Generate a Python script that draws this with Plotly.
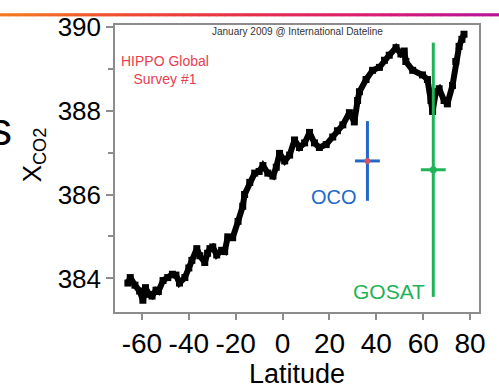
import plotly.graph_objects as go

# HIPPO Global Survey #1 data (latitude, XCO2)
hippo_lat = [-66.0, -65.0, -63.0, -61.0, -59.6, -58.5, -57.0, -55.7, -54.0, -53.0,
             -51.0, -49.0, -47.0, -45.5, -44.0, -41.7, -40.0, -38.7, -36.6, -35.3,
             -33.2, -32.0, -31.0, -29.8, -28.1, -26.0, -24.7, -23.4, -21.3, -19.0,
             -17.0, -16.2, -14.0, -11.9, -10.0, -8.4, -6.3, -4.1, -2.7, -1.3,
             0.9, 3.0, 5.1, 7.2, 9.4, 11.5, 13.6, 15.7, 18.6, 21.4,
             23.4, 25.7, 28.5, 30.6, 32.0, 32.8, 35.6, 38.4, 41.3, 43.5,
             45.5, 48.4, 50.5, 51.9, 52.6, 55.5, 59.7, 61.8, 63.3, 64.0,
             65.4, 66.8, 68.9, 70.3, 72.5, 73.9, 75.3, 76.5, 77.4]
hippo_xco2 = [383.89, 384.02, 383.84, 383.70, 383.48, 383.78, 383.62, 383.58, 383.72, 383.69,
              383.95, 384.02, 384.10, 384.08, 383.89, 384.02, 384.25, 384.43, 384.71, 384.54,
              384.38, 384.60, 384.71, 384.75, 384.56, 384.67, 384.64, 384.99, 384.97, 385.36,
              385.72, 386.00, 386.29, 386.51, 386.55, 386.69, 386.51, 386.44, 386.65, 386.98,
              386.80, 386.94, 387.30, 387.12, 387.23, 387.48, 387.23, 387.12, 387.19, 387.37,
              387.52, 387.66, 387.95, 387.73, 388.24, 388.45, 388.74, 388.96, 389.03, 389.20,
              389.32, 389.50, 389.35, 389.42, 389.17, 388.96, 388.85, 388.74, 388.24, 387.98,
              388.45, 388.52, 388.24, 388.16, 388.60, 389.17, 389.53, 389.70, 389.82]

# Satellite estimates
oco_lat = [36.2]
oco_xco2 = [386.80]
oco_err_y = [0.95]
oco_err_x = [5.3]

gosat_lat = [64.3]
gosat_xco2 = [386.59]
gosat_err_y = [3.03]
gosat_err_x = [5.3]

x_ticks = [-60, -40, -20, 0, 20, 40, 60, 80]
x_tick_labels = ["-60", "-40", "-20", "0", "20", "40", "60", "80"]
y_ticks = [384, 386, 388, 390]
y_tick_labels = ["384", "386", "388", "390"]

BLUE = "#2168C8"
GREEN = "#1FB357"
FONT = "Liberation Sans, Arial, sans-serif"

fig = go.Figure()

fig.add_trace(go.Scatter(
    x=hippo_lat, y=hippo_xco2, mode="lines+markers",
    line=dict(color="black", width=6),
    marker=dict(symbol="square", size=7, color="black"),
    showlegend=False, hoverinfo="skip"))

fig.add_trace(go.Scatter(
    x=oco_lat, y=oco_xco2, mode="markers",
    marker=dict(size=6, color="#D8506A"),
    error_y=dict(type="data", array=oco_err_y, color=BLUE, thickness=3, width=0),
    error_x=dict(type="data", array=oco_err_x, color=BLUE, thickness=3, width=0),
    showlegend=False, hoverinfo="skip"))

fig.add_trace(go.Scatter(
    x=gosat_lat, y=gosat_xco2, mode="markers",
    marker=dict(size=7, color=GREEN),
    error_y=dict(type="data", array=gosat_err_y, color=GREEN, thickness=3, width=0),
    error_x=dict(type="data", array=gosat_err_x, color=GREEN, thickness=3, width=0),
    showlegend=False, hoverinfo="skip"))

W, H = 499, 390
L, R, T, B = 115, 20, 13, 60
pw, ph = W - L - R, H - T - B

def px2paper_x(px):
    return (px - L) / pw

def px2paper_y(py):
    return (H - B - py) / ph

# gradient bar at top
stops = [(0.0, (244, 124, 32)), (0.25, (238, 74, 46)), (0.5, (230, 46, 75)),
         (0.75, (217, 28, 115)), (1.0, (181, 19, 154))]

def color_at(t):
    for (t0, c0), (t1, c1) in zip(stops[:-1], stops[1:]):
        if t0 <= t <= t1:
            f = (t - t0) / (t1 - t0)
            return "rgb(%d,%d,%d)" % tuple(round(a + (b - a) * f) for a, b in zip(c0, c1))
    return "rgb(%d,%d,%d)" % stops[-1][1]

shapes = []
N = 60
for i in range(N):
    x0 = W * i / N
    x1 = W * (i + 1) / N + 0.5
    shapes.append(dict(type="rect", xref="paper", yref="paper",
                       x0=px2paper_x(x0), x1=px2paper_x(x1),
                       y0=px2paper_y(3.5), y1=px2paper_y(0),
                       fillcolor=color_at((i + 0.5) / N), line=dict(width=0),
                       layer="above"))

annotations = [
    dict(text="January 2009 @ International Dateline", xref="paper", yref="paper",
         x=0.5, y=px2paper_y(20), xanchor="center", yanchor="middle", showarrow=False,
         font=dict(size=10, color="#333333", family=FONT)),
    dict(text="HIPPO Global<br>Survey #1", xref="paper", yref="paper",
         x=px2paper_x(165), y=px2paper_y(63), xanchor="center", yanchor="middle",
         showarrow=False,
         font=dict(size=14, color="#E8404F", family=FONT), align="center"),
    dict(text="OCO", xref="x", yref="y", x=32.8, y=385.93, xanchor="right",
         yanchor="middle",
         showarrow=False, font=dict(size=20, color=BLUE, family=FONT)),
    dict(text="GOSAT", xref="x", yref="y", x=61.7, y=383.70, xanchor="right",
         yanchor="middle",
         showarrow=False, font=dict(size=21, color=GREEN, family=FONT)),
    dict(text="X<sub>CO2</sub>", xref="paper", yref="paper",
         x=px2paper_x(33), y=px2paper_y(157), xanchor="center", yanchor="middle",
         textangle=-90, showarrow=False,
         font=dict(size=26, color="black", family=FONT)),
    dict(text="s", xref="paper", yref="paper", x=px2paper_x(14), y=px2paper_y(128),
         xanchor="right", yanchor="middle", showarrow=False,
         font=dict(size=46, color="black", family=FONT)),
]

axis_common = dict(showgrid=False, zeroline=False, showline=True, mirror=True,
                   linecolor="#8c8c8c", linewidth=1.5, ticks="outside",
                   tickcolor="#8c8c8c", tickwidth=1.5)

fig.update_layout(
    width=W, height=H, margin=dict(l=L, r=R, t=T, b=B),
    paper_bgcolor="white", plot_bgcolor="white",
    font=dict(family=FONT),
    xaxis=dict(range=[-71.5, 83.8], tickvals=x_ticks, ticktext=x_tick_labels, ticklen=6,
               tickfont=dict(size=28, color="black", family=FONT),
               title=dict(text="Latitude", font=dict(size=27, color="black", family=FONT),
                          standoff=0),
               **axis_common),
    yaxis=dict(range=[383.20, 390.04], tickvals=y_ticks, ticktext=y_tick_labels, ticklen=7,
               tickfont=dict(size=26, color="black", family=FONT),
               minor=dict(tickvals=[385, 387, 389], ticks="outside", ticklen=5,
                          tickcolor="#8c8c8c", tickwidth=1.5),
               **axis_common),
    shapes=shapes,
    annotations=annotations,
)

fig.write_html("out.html")
